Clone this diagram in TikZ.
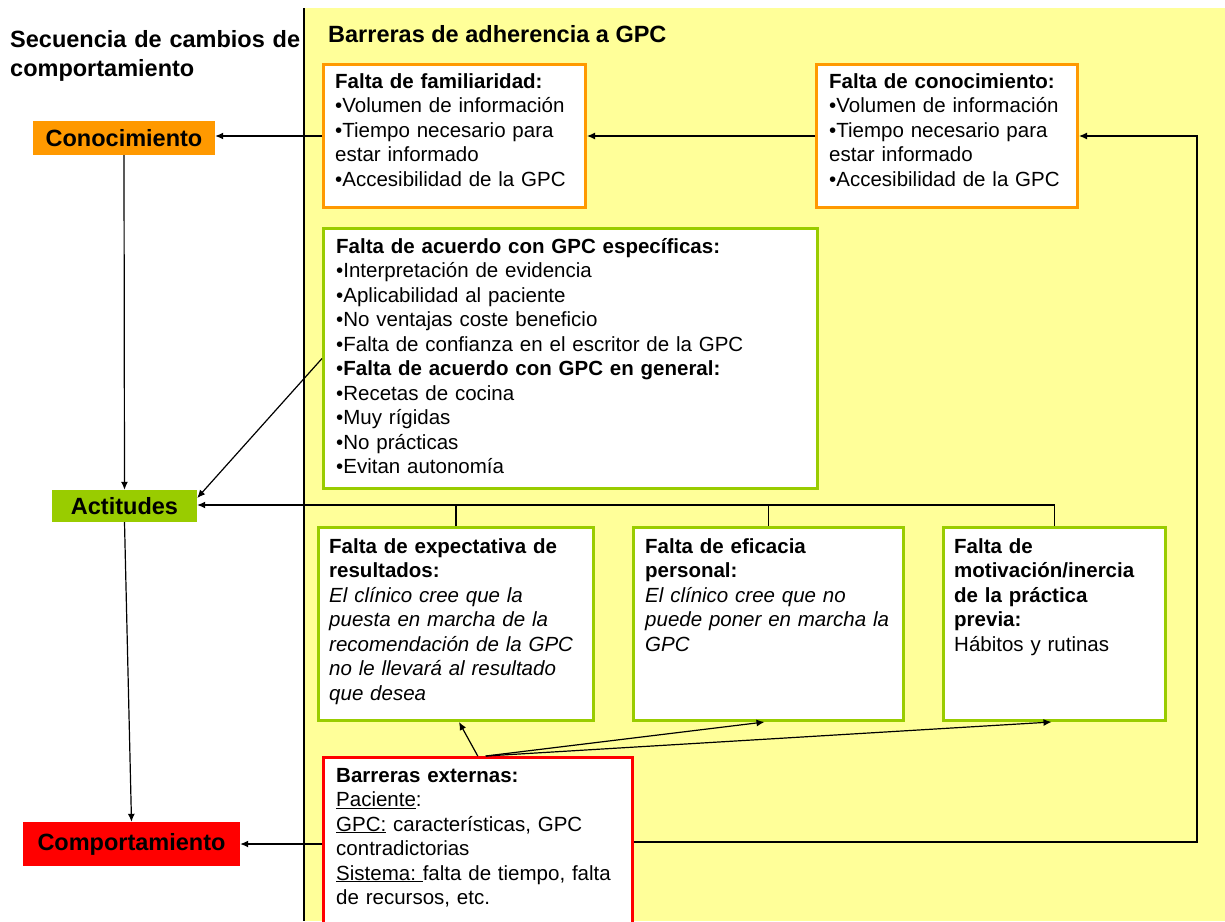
\documentclass[tikz,border=0pt]{standalone}
\usepackage{fontspec}
\setmainfont{Liberation Sans}
\usetikzlibrary{arrows.meta}
\definecolor{orng}{HTML}{FF9900}
\definecolor{grn}{HTML}{99CC00}
\definecolor{yel}{HTML}{FFFF99}
\definecolor{rd}{HTML}{FF0000}
\begin{document}
\begin{tikzpicture}[x=1pt,y=-1pt,
  box/.style={draw, line width=3pt, fill=white, inner sep=0pt, anchor=north west},
  lab/.style={inner sep=0pt, font=\fontsize{23.5}{28}\selectfont\bfseries},
  body/.style={inner sep=0pt, anchor=base west, align=left, font=\fontsize{20.5}{24.5}\selectfont},
  arr/.style={line width=1.2pt, -{Latex[length=8pt,width=7pt]}},
  ln/.style={line width=1.2pt}]
\useasboundingbox (0,0) rectangle (1225,921);
\fill[white] (0,0) rectangle (1225,921);
\fill[yel] (304,8) rectangle (1225,921);
\draw[line width=1.3pt] (304,8) -- (304,921);

% titles
\node[inner sep=0pt, anchor=base west, align=left, text width=300pt, font=\fontsize{23.5}{29}\selectfont\bfseries] (t1) at (10,47) {Secuencia de cambios de\\comportamiento};
\node[inner sep=0pt, anchor=base west, font=\fontsize{23.5}{28}\selectfont\bfseries] (t2) at (328,42) {Barreras de adherencia a GPC};

% left labels
\node[lab, fill=orng, minimum width=182pt, minimum height=34pt] (con) at (124,138) {Conocimiento};
\node[lab, fill=grn, minimum width=145pt, minimum height=32pt] (act) at (124.5,506) {Actitudes};
\node[lab, fill=rd, minimum width=217pt, minimum height=44pt] (comp) at (131.5,844) {Comportamiento};

% boxes
\node[box, draw=orng, minimum width=262pt, minimum height=143pt] (fam) at (322,63) {};
\node[box, draw=orng, minimum width=261pt, minimum height=143pt] (fcon) at (815,63) {};
\node[box, draw=grn, minimum width=494pt, minimum height=260pt] (acu) at (322,227) {};
\node[box, draw=grn, minimum width=275pt, minimum height=193pt] (b1) at (317,526) {};
\node[box, draw=grn, minimum width=270pt, minimum height=193pt] (b2) at (632,526) {};
\node[box, draw=grn, minimum width=222pt, minimum height=193pt] (b3) at (942,526) {};
\node[box, draw=rd, line width=2.5pt, minimum width=309pt, minimum height=200pt] (ext) at (322,756) {};

% box texts
\node[body, text width=255pt] (tfam) at (335,88) {\textbf{Falta de familiaridad:}\\•Volumen de información\\•Tiempo necesario para\\estar informado\\•Accesibilidad de la GPC};
\node[body, text width=255pt] (tfcon) at (829,88) {\textbf{Falta de conocimiento:}\\•Volumen de información\\•Tiempo necesario para\\estar informado\\•Accesibilidad de la GPC};
\node[body, text width=480pt] (tacu) at (336,253) {\textbf{Falta de acuerdo con GPC específicas:}\\•Interpretación de evidencia\\•Aplicabilidad al paciente\\•No ventajas coste beneficio\\•Falta de confianza en el escritor de la GPC\\•\textbf{Falta de acuerdo con GPC en general:}\\•Recetas de cocina\\•Muy rígidas\\•No prácticas\\•Evitan autonomía};
\node[body, text width=300pt] (tb1) at (329,553) {\textbf{Falta de expectativa de}\\\textbf{resultados:}\\\textit{El clínico cree que la}\\\textit{puesta en marcha de la}\\\textit{recomendación de la GPC}\\\textit{no le llevará al resultado}\\\textit{que desea}};
\node[body, text width=300pt] (tb2) at (645,553) {\textbf{Falta de eficacia}\\\textbf{personal:}\\\textit{El clínico cree que no}\\\textit{puede poner en marcha la}\\\textit{GPC}};
\node[body, text width=250pt] (tb3) at (954,553) {\textbf{Falta de}\\\textbf{motivación/inercia}\\\textbf{de la práctica}\\\textbf{previa:}\\Hábitos y rutinas};
\node[body, text width=300pt] (text) at (336,782) {\textbf{Barreras externas:}\\\underline{Paciente}:\\\underline{GPC:} características, GPC\\contradictorias\\\underline{Sistema:\ }falta de tiempo, falta\\de recursos, etc.};

% connectors
\draw[arr] (fam.west) -- (fam.west -| con.east);
\draw[arr] (fcon.west) -- (fam.east);
\coordinate (rc) at (1197,842);
\draw[arr] (ext.east |- rc) -- (rc) -- (rc |- fcon.east) -- (fcon.east);
\draw[arr] (con.south) -- (act.north);
\draw[arr] (act.south) -- (comp.north);
\draw[arr] (acu.west) -- ([yshift=8pt]act.east);
\coordinate (bus) at (0,505);
\draw[arr] (b3.north) -- (b3.north |- bus) -- (act.east |- bus);
\draw[ln] (b1.north) -- (b1.north |- bus);
\draw[ln] (b2.north) -- (b2.north |- bus);
\draw[arr] (ext.north) -- ([xshift=3pt]b1.south);
\draw[arr] ([xshift=8pt]ext.north) -- ([xshift=-4pt]b2.south);
\draw[arr] ([xshift=8pt]ext.north) -- ([xshift=-3pt]b3.south);
\draw[arr] (ext.west |- comp) -- (comp.east);
\end{tikzpicture}
\end{document}
